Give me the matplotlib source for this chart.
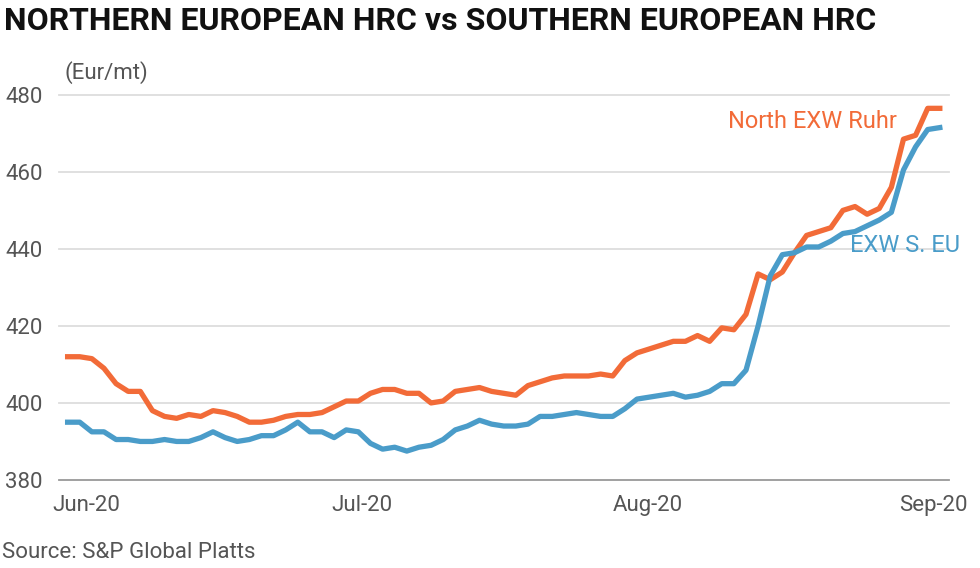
import matplotlib
matplotlib.use("Agg")
import matplotlib.pyplot as plt
import pandas as pd

north = [412, 412, 411.5, 409, 405, 403, 403, 398, 396.5, 396, 397, 396.5, 398, 397.5, 396.5, 395,
         395, 395.5, 396.5, 397, 397, 397.5, 399, 400.5, 400.5, 402.5, 403.5, 403.5, 402.5, 402.5, 400,
         400.5, 403, 403.5, 404, 403, 402.5, 402, 404.5, 405.5, 406.5, 407, 407, 407, 407.5, 407, 411,
         413, 414, 415, 416, 416, 417.5, 416, 419.5, 419, 423, 433.5, 432, 434, 439, 443.5, 444.5, 445.5,
         450, 451, 449, 450.5, 456, 468.5, 469.5, 476.5, 476.5]
south = [395, 395, 392.5, 392.5, 390.5, 390.5, 390, 390, 390.5, 390, 390, 391, 392.5, 391, 390, 390.5,
         391.5, 391.5, 393, 395, 392.5, 392.5, 391, 393, 392.5, 389.5, 388, 388.5, 387.5, 388.5, 389,
         390.5, 393, 394, 395.5, 394.5, 394, 394, 394.5, 396.5, 396.5, 397, 397.5, 397, 396.5, 396.5,
         398.5, 401, 401.5, 402, 402.5, 401.5, 402, 403, 405, 405, 408.5, 420, 433, 438.5, 439, 440.5,
         440.5, 442, 444, 444.5, 446, 447.5, 449.5, 460.5, 466.5, 471, 471.5]
start, end = "2020-05-30", "2020-09-01 18:00"
tick_dates = ["2020-06-01", "2020-07-01", "2020-08-01", "2020-09-01"]
tick_labels = ["Jun-20", "Jul-20", "Aug-20", "Sep-20"]
yticks = [380, 400, 420, 440, 460, 480]

ORANGE = "#f26b38"
BLUE = "#4a9cc9"
GRAY = "#555555"
FONT = "Roboto"

fig = plt.figure(figsize=(9.8, 5.68), dpi=100)
ax = fig.add_axes([0.069, 0.155, 0.89, 0.678])
xn = pd.date_range(start, end, periods=len(north))
xs = pd.date_range(start, end, periods=len(south))
ax.plot(xn, north, color=ORANGE, lw=3.8, solid_joinstyle="round", clip_on=False, zorder=3)
ax.plot(xs, south, color=BLUE, lw=3.8, solid_joinstyle="round", clip_on=False, zorder=3)

ax.set_ylim(380, 480)
ax.set_xlim(pd.Timestamp(start), pd.Timestamp(end))
ax.set_yticks(yticks)
ax.set_yticklabels([str(v) for v in yticks], fontsize=16, color=GRAY, family=FONT)
ax.set_xticks(pd.to_datetime(tick_dates))
ax.set_xticklabels(tick_labels, fontsize=16, color=GRAY, family=FONT)
ax.tick_params(length=0, pad=11)
ax.tick_params(axis="y", pad=45)
for lab in ax.get_yticklabels():
    lab.set_horizontalalignment("left")
for s in ax.spines.values():
    s.set_visible(False)
for v in yticks[1:]:
    ax.axhline(v, color="#dddddd", lw=1.3, zorder=1, xmin=-0.01, xmax=1.01, clip_on=False)
ax.axhline(380, color="#999999", lw=1.3, zorder=1, xmin=-0.01, xmax=1.01, clip_on=False)

fig.text(0.004, 0.963, "NORTHERN EUROPEAN HRC vs SOUTHERN EUROPEAN HRC", fontsize=23,
         fontweight="bold", family=FONT, va="center", ha="left", color="#111111")
fig.text(0.066, 0.873, "(Eur/mt)", fontsize=16, color=GRAY, family=FONT, va="center")
fig.text(0.002, 0.028, "Source: S&P Global Platts", fontsize=16, color=GRAY, family=FONT, va="center")
ax.text(0.757, 0.93, "North EXW Ruhr", transform=ax.transAxes, fontsize=17, color=ORANGE,
        family=FONT, va="center")
ax.text(0.897, 0.61, "EXW S. EU", transform=ax.transAxes, fontsize=17, color=BLUE,
        family=FONT, va="center")

fig.savefig("out.png", dpi=100, facecolor="white")
